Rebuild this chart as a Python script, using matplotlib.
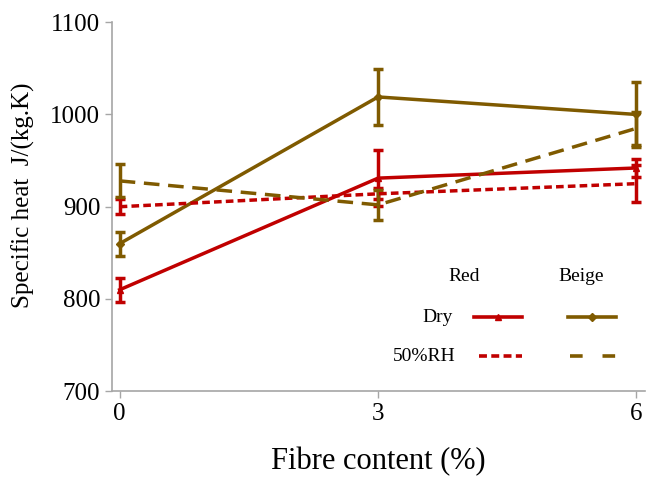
#!/usr/bin/env python3
"""Specific heat vs fibre content, red and beige samples, dry and 50%RH."""

import matplotlib
matplotlib.use("Agg")
import matplotlib.pyplot as plt
from matplotlib.lines import Line2D

# fibre content (%)
fibre = [0, 3, 6]

# specific heat J/(kg.K) and error bars
red_dry = [810, 931, 942]
red_dry_err = [13, 30, 10]
red_rh = [900, 914, 925]
red_rh_err = [8, 6, 20]
beige_dry = [860, 1019, 1000]
beige_dry_err = [13, 30, 35]
beige_rh = [928, 902, 985]
beige_rh_err = [18, 16, 18]

RED = "#C00000"
BEIGE = "#7F5A00"
RED_DASH = (0, (2.2, 1.2))
BEIGE_DASH = (0, (4.5, 2.5))

plt.rcParams["font.family"] = ["Liberation Serif", "DejaVu Serif"]

fig = plt.figure(figsize=(6.47, 4.83), dpi=100)
ax = fig.add_axes([0.173, 0.19, 0.824, 0.764])

style = dict(lw=2.5, capsize=3.5, capthick=2.5, elinewidth=2.5, ms=5)
ax.errorbar(fibre, red_dry, yerr=red_dry_err, color=RED, marker="^", **style)
ax.errorbar(fibre, beige_dry, yerr=beige_dry_err, color=BEIGE, marker="D",
            **{**style, "ms": 4})
ax.errorbar(fibre, red_rh, yerr=red_rh_err, color=RED, ls=RED_DASH, **style)
ax.errorbar(fibre, beige_rh, yerr=beige_rh_err, color=BEIGE, ls=BEIGE_DASH,
            **style)

ax.set_xlim(-0.09, 6.1)
ax.set_ylim(700, 1100)
ax.set_xticks(fibre)
ax.set_yticks([700, 800, 900, 1000, 1100])
ax.tick_params(labelsize=18, color="#A6A6A6", length=5, width=1)
for side in ("top", "right"):
    ax.spines[side].set_visible(False)
for side in ("left", "bottom"):
    ax.spines[side].set_color("#A6A6A6")
    ax.spines[side].set_linewidth(1.2)

ax.set_xlabel("Fibre content (%)", fontsize=22, labelpad=16)
ax.set_ylabel("Specific heat  J/(kg.K)", fontsize=18)
ax.yaxis.set_label_coords(-0.145, 0.53)

# hand made legend table
tf = ax.transAxes
ax.text(0.66, 0.31, "Red", fontsize=14, ha="center", va="center", transform=tf)
ax.text(0.88, 0.31, "Beige", fontsize=14, ha="center", va="center", transform=tf)
ax.text(0.64, 0.20, "Dry", fontsize=14, ha="right", va="center", transform=tf)
ax.text(0.645, 0.095, "50%RH", fontsize=14, ha="right", va="center", transform=tf)
ax.add_line(Line2D([0.68, 0.725, 0.77], [0.20, 0.20, 0.20], color=RED,
                   lw=2.6, marker="^", ms=5, markevery=[1], transform=tf))
ax.add_line(Line2D([0.855, 0.9, 0.945], [0.20, 0.20, 0.20], color=BEIGE,
                   lw=2.6, marker="D", ms=4, markevery=[1], transform=tf))
ax.add_line(Line2D([0.688, 0.77], [0.095, 0.095], color=RED, lw=2.6,
                   ls=RED_DASH, transform=tf))
ax.add_line(Line2D([0.86, 0.945], [0.095, 0.095], color=BEIGE, lw=2.6,
                   ls=(0, (3.5, 5.5)), transform=tf))

fig.savefig("out.png", dpi=100)
